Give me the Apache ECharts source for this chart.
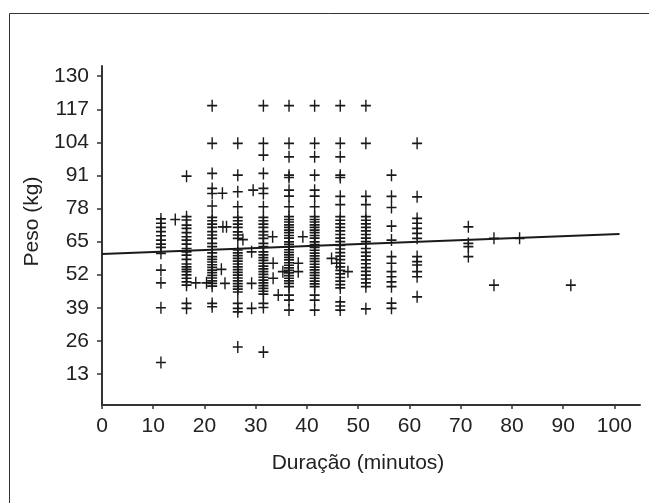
<!DOCTYPE html>
<html>
<head>
<meta charset="utf-8">
<script src="https://cdn.jsdelivr.net/npm/echarts@6/dist/echarts.min.js"></script>
<style>
html,body{margin:0;padding:0;background:#fff;}
#chart{width:649px;height:503px;}
</style>
</head>
<body>
<div id="chart"></div>
<script>
// Column durations (minutes)
const durations = [11.5, 16.5, 21.5, 26.5, 31.5, 36.5, 41.5, 46.5, 51.5, 56.5, 61.5, 71.5, 76.5, 81.5, 91.5];
// Weights (kg) per duration column
const w11 = [73.9, 72.2, 70.6, 68.9, 67.3, 65.6, 64.0, 62.7, 60.4, 53.8, 48.8, 39.0, 17.5];
const w16 = [90.7, 74.8, 73.5, 71.5, 70.2, 68.5, 66.9, 65.6, 64.0, 62.3, 61.0, 59.7, 58.0, 56.2, 55.1, 54.1, 53.2, 51.9, 50.6, 49.2, 47.9, 40.7, 38.8];
const w21 = [118.4, 103.6, 91.8, 85.9, 83.9, 79.0, 74.5, 73.2, 71.9, 70.6, 68.9, 67.6, 66.3, 64.3, 63.0, 60.6, 59.1, 58.0, 57.0, 55.9, 54.9, 53.8, 52.8, 51.7, 50.7, 49.6, 48.6, 47.5, 40.7, 39.4];
const w26 = [103.6, 91.1, 84.6, 78.7, 74.5, 73.2, 71.9, 70.6, 68.8, 67.6, 66.3, 61.7, 60.6, 59.5, 58.4, 57.3, 56.2, 55.1, 54.0, 52.9, 51.8, 50.7, 49.6, 48.5, 47.4, 46.3, 45.2, 40.7, 38.8, 37.4, 23.6];
const w31 = [118.4, 103.6, 99.0, 91.8, 85.9, 83.9, 78.7, 74.5, 73.2, 71.9, 70.6, 68.9, 67.6, 66.3, 64.3, 63.0, 61.0, 59.8, 58.7, 57.6, 56.5, 55.4, 54.3, 53.2, 52.1, 51.0, 49.9, 48.8, 47.7, 46.6, 45.5, 44.4, 40.7, 39.1, 21.6];
const w36 = [118.4, 103.6, 98.3, 91.1, 90.2, 85.2, 82.9, 78.7, 74.8, 73.7, 72.7, 71.6, 70.6, 69.5, 68.5, 67.4, 66.4, 64.9, 63.9, 62.9, 61.8, 60.8, 59.8, 58.8, 57.8, 56.7, 55.7, 54.7, 53.7, 52.7, 51.6, 50.6, 49.6, 48.6, 47.3, 44.0, 42.0, 38.1];
const w41 = [118.4, 103.6, 98.3, 91.1, 85.2, 82.9, 78.7, 74.8, 73.7, 72.7, 71.6, 70.6, 69.5, 68.5, 67.4, 66.4, 64.9, 63.8, 62.7, 61.6, 60.5, 59.4, 58.3, 57.2, 56.1, 55.0, 53.9, 52.8, 51.7, 50.6, 49.5, 48.4, 47.3, 44.0, 42.0, 38.1];
const w46 = [118.4, 103.6, 98.3, 91.1, 90.2, 82.8, 79.5, 74.8, 73.4, 72.0, 70.6, 69.2, 67.8, 66.4, 65.0, 63.5, 62.1, 60.7, 59.3, 57.9, 56.5, 55.1, 53.7, 52.3, 50.9, 49.5, 48.1, 46.8, 41.3, 39.7, 38.1];
const w51 = [118.4, 103.6, 82.8, 79.5, 74.8, 73.4, 72.0, 70.6, 69.2, 67.8, 66.4, 65.0, 62.3, 60.8, 59.3, 57.8, 56.3, 54.8, 53.3, 51.8, 50.3, 48.8, 47.3, 38.6];
const w56 = [91.1, 82.8, 78.4, 71.1, 65.6, 59.1, 56.5, 53.2, 51.2, 49.2, 47.3, 40.8, 38.8];
const w61 = [103.6, 82.6, 74.1, 72.2, 70.2, 68.2, 66.3, 59.1, 57.1, 55.8, 53.2, 51.2, 43.3];
const w71 = [70.8, 64.3, 63.0, 59.1];
const w76 = [66.3, 47.9];
const w81 = [66.3];
const w91 = [47.9];
const weightsByColumn = [w11, w16, w21, w26, w31, w36, w41, w46, w51, w56, w61, w71, w76, w81, w91];
// Scattered points between the columns
const extraDur  = [14.3, 18.3, 20.4, 23.5, 23.6, 24.3, 23.3, 24.0, 27.5, 29.2, 29.5, 29.2, 29.2, 39.2, 33.4, 33.4, 34.4, 35.3, 38.3, 38.3, 44.8, 45.8, 48.0, 33.3];
const extraPeso = [73.7, 48.8, 48.8, 84.0, 70.8, 70.8, 54.1, 48.6, 65.8, 61.0, 85.2, 48.6, 38.8, 66.9, 56.5, 50.6, 44.0, 53.2, 56.5, 53.2, 58.4, 56.5, 53.2, 66.9];
// Regression line end points
const fitDur = [0, 101];
const fitPeso = [60.1, 68.0];
// Tick labels
const xTicks = [0, 10, 20, 30, 40, 50, 60, 70, 80, 90, 100];
const yTicks = [13, 26, 39, 52, 65, 78, 91, 104, 117, 130];

const points = [];
durations.forEach((d, i) => weightsByColumn[i].forEach(w => points.push([d, w])));
extraDur.forEach((d, i) => points.push([d, extraPeso[i]]));
const fitData = fitDur.map((d, i) => [d, fitPeso[i]]);

const plusPath = 'path://M4.3,0 L5.7,0 L5.7,4.3 L10,4.3 L10,5.7 L5.7,5.7 L5.7,10 L4.3,10 L4.3,5.7 L0,5.7 L0,4.3 L4.3,4.3 Z';
const font = 'Liberation Sans, Arial, sans-serif';
const ink = '#222';

const chart = echarts.init(document.getElementById('chart'), null, {renderer: 'canvas'});
chart.setOption({
  backgroundColor: '#fff',
  animation: false,
  graphic: [{
    type: 'rect', shape: {x: 9.5, y: 13.5, width: 700, height: 600},
    style: {fill: 'none', stroke: '#333', lineWidth: 1}, silent: true, z: 0
  }],
  grid: {left: 102, right: 9, top: 66, bottom: 98, containLabel: false},
  xAxis: {
    type: 'value', min: 0, max: 105, interval: 10,
    name: 'Duração (minutos)', nameLocation: 'middle', nameGap: 48,
    nameTextStyle: {fontFamily: font, fontSize: 21, color: ink, padding: [0, 26, 0, 0]},
    axisLine: {show: true, onZero: false, lineStyle: {color: '#333', width: 2}},
    axisTick: {show: true, length: 4, customValues: xTicks, lineStyle: {color: '#333', width: 1.5}},
    axisLabel: {customValues: xTicks, margin: 11, fontFamily: font, fontSize: 21, color: ink},
    splitLine: {show: false}
  },
  yAxis: {
    type: 'value', min: 0.8, max: 134, interval: 13,
    name: 'Peso (kg)', nameLocation: 'middle', nameGap: 57,
    nameTextStyle: {fontFamily: font, fontSize: 21, color: ink, padding: [0, 0, 0, 28]},
    axisLine: {show: true, onZero: false, lineStyle: {color: '#333', width: 2}},
    axisTick: {show: true, length: 5, customValues: yTicks, lineStyle: {color: '#333', width: 1.5}},
    axisLabel: {customValues: yTicks, margin: 13, fontFamily: font, fontSize: 21, color: ink},
    splitLine: {show: false}
  },
  series: [{
    type: 'scatter', data: points, symbol: plusPath, symbolSize: [10, 12],
    itemStyle: {color: '#1a1a1a', opacity: 1}, z: 3
  }, {
    type: 'line', data: fitData, symbol: 'none', showSymbol: false,
    lineStyle: {color: '#1a1a1a', width: 2}, z: 4
  }]
});
</script>
</body>
</html>
